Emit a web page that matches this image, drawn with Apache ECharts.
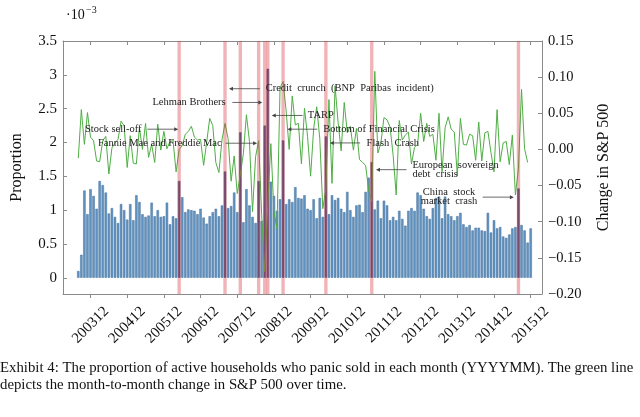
<!DOCTYPE html>
<html><head><meta charset="utf-8">
<script src="https://cdn.jsdelivr.net/npm/echarts@6/dist/echarts.min.js"></script>
<style>html,body{margin:0;padding:0;background:#fff}#c{width:640px;height:417px}</style>
</head><body><div id="c"></div>
<script>
// ---- data ----
const firstMonth = '200308';
const lastMonth = '201512';
// proportion of active households who panic sold (x 10^-3), 200308 .. 201512
const barValues = [
  0.10,0.34,1.29,0.94,1.31,1.21,1.02,1.43,1.37,1.26,0.95,1.03,0.90,0.81,1.09,1.00,0.86,1.09,0.85,1.22,
  1.12,0.94,0.90,0.92,1.11,0.91,1.00,0.90,0.91,1.11,0.79,0.91,0.88,1.43,1.19,0.97,1.01,1.00,0.99,0.94,
  1.02,0.89,0.80,0.91,0.97,1.02,0.91,1.07,1.57,1.03,1.06,1.26,0.97,2.15,0.82,1.31,1.07,0.90,0.81,1.43,
  0.84,2.25,3.09,1.42,1.21,0.99,1.16,2.03,1.09,1.16,1.12,1.34,1.18,1.17,1.22,1.02,1.00,1.16,0.88,1.18,
  0.90,2.09,0.94,1.22,1.15,1.18,1.02,0.97,1.27,1.00,0.90,1.07,1.08,0.97,1.27,1.48,1.71,1.01,1.14,0.88,
  1.14,1.07,0.85,0.90,0.85,0.99,0.87,0.77,0.99,1.03,0.99,1.26,1.22,1.02,0.91,0.87,1.03,1.18,1.20,0.88,
  1.20,0.94,0.91,0.85,0.91,0.96,0.79,0.75,0.78,0.70,0.74,0.74,0.70,0.69,0.96,0.67,0.85,0.73,0.75,0.61,
  0.59,0.64,0.73,0.75,1.32,0.78,0.70,0.52,0.73
];
// month-to-month change in S&P 500, 200308 .. 201511
const spChange = [
  -0.012,0.055,0.007,0.051,
  0.017,0.012,-0.016,-0.017,0.012,0.018,-0.034,0.002,0.009,0.014,0.039,0.033,
  -0.025,0.019,-0.019,-0.020,0.030,0.000,0.036,-0.011,0.007,-0.018,0.035,-0.001,
  0.025,0.001,0.011,0.012,-0.031,0.000,0.005,0.021,0.025,0.032,0.017,0.013,
  0.014,-0.022,0.010,0.043,0.033,-0.018,-0.032,0.013,0.036,0.015,-0.044,-0.009,
  -0.061,-0.035,-0.006,0.048,0.011,-0.086,-0.010,0.012,-0.091,-0.169,-0.075,0.008,
  -0.086,-0.110,0.085,0.094,0.053,0.000,0.074,0.034,0.036,-0.020,0.057,0.018,
  -0.037,0.029,0.059,0.015,-0.082,-0.054,0.069,-0.047,0.088,0.037,-0.002,0.065,
  0.023,0.032,-0.001,0.029,-0.014,-0.018,-0.022,-0.057,-0.072,0.108,-0.005,0.009,
  0.044,0.041,0.031,-0.008,-0.063,0.040,0.013,0.020,0.024,-0.020,0.003,0.007,
  0.050,0.011,0.036,0.018,0.021,-0.015,0.050,-0.031,0.030,0.045,0.028,0.024,
  -0.036,0.043,0.007,0.006,0.021,0.019,-0.015,0.038,-0.016,0.023,0.025,-0.004,
  -0.031,0.055,-0.017,0.009,0.011,-0.021,0.020,-0.063,-0.026,0.083,0.001,-0.018
];
const eventMonths = ['200605','200708','200801','200807','200809','200810','200903','201005','201108','201508'];
const tickLabels = ['200312','200412','200512','200612','200712','200812','200912','201012','201112','201212','201312','201412','201512'];
const leftTicks = [0,0.5,1,1.5,2,2.5,3,3.5];
const annotations = [
  {lines:['Credit  crunch  (BNP  Paribas  incident)'], x:57.3, y:0.084, align:'left', from:55.4, to:45.3},
  {lines:['Lehman Brothers'], x:44.2, y:0.065, align:'right', from:46.4, to:56.2},
  {lines:['TARP'], x:71.1, y:0.047, align:'left', from:69.4, to:59.3},
  {lines:['Bottom of Financial Crisis'], x:76.1, y:0.028, align:'left', from:74.2, to:64.4},
  {lines:['Stock sell-off'], x:16.7, y:0.028, align:'right', from:18.6, to:28.7},
  {lines:['Fannie Mae and Freddie Mac'], x:42.9, y:0.0086, align:'right', from:44.2, to:54.5},
  {lines:['Flash  Crash'], x:90.3, y:0.009, align:'left', from:88.2, to:78.3},
  {lines:['European  sovereign','debt  crisis'], x:105.3, y:-0.028, align:'left', from:103.4, to:93.4},
  {lines:['China  stock','market  crash'], x:117.3, y:-0.066, align:'center', from:128.3, to:138.5}
];
const caption = ['Exhibit 4: The proportion of active households who panic sold in each month (YYYYMM). The green line',
                 'depicts the month-to-month change in S&P 500 over time.'];

// ---- helpers ----
function monthIndex(s){ return (+s.slice(0,4) - 2003) * 12 + (+s.slice(4)) - 12; }
function labelOf(m){ const t = 2003*12 + 11 + Math.round(m); const y = Math.floor(t/12), mo = t%12 + 1; return '' + y + (mo<10?'0':'') + mo; }
const months = [];
for (let t = monthIndex(firstMonth); t <= monthIndex(lastMonth); t++) months.push(labelOf(t));

const FONT = "'Liberation Serif','DejaVu Serif',serif";
const AX = '#8a8a8a';
const tickVals = tickLabels.map(monthIndex);

const chart = echarts.init(document.getElementById('c'), null, {renderer:'canvas'});
const option = {
  animation:false,
  backgroundColor:'#fff',
  grid:{left:63, right:98, top:41, bottom:123, containLabel:false},
  xAxis:[{
    type:'value', min:-9, max:147.7, position:'bottom',
    axisLine:{show:true, onZero:false, lineStyle:{color:AX, width:1}},
    axisTick:{show:true, inside:false, length:4, customValues:tickVals, lineStyle:{color:AX}},
    axisLabel:{customValues:tickVals, rotate:45, align:'center', verticalAlign:'middle',
      formatter:v=>labelOf(v), fontFamily:FONT, fontSize:15, color:'#111', margin:31},
    splitLine:{show:false}
  },{
    type:'value', min:-9, max:147.7, position:'top',
    axisLine:{show:true, onZero:false, lineStyle:{color:AX, width:1}},
    axisTick:{show:true, inside:true, length:4, customValues:tickVals, lineStyle:{color:AX}},
    axisLabel:{show:false}, splitLine:{show:false}
  }],
  yAxis:[{
    type:'value', min:-0.24, max:3.5, position:'left',
    name:'Proportion', nameLocation:'middle', nameGap:38, nameRotate:90,
    nameTextStyle:{fontFamily:FONT, fontSize:16, color:'#111'},
    axisLine:{show:true, onZero:false, lineStyle:{color:AX}},
    axisTick:{show:true, inside:true, length:4, customValues:leftTicks, lineStyle:{color:AX}},
    axisLabel:{customValues:leftTicks, fontFamily:FONT, fontSize:15, color:'#111', margin:6, formatter:v=>String(v)},
    splitLine:{show:false}
  },{
    type:'value', min:-0.2, max:0.15, interval:0.05, position:'right',
    name:'Change in S&P 500', nameLocation:'middle', nameGap:54, nameRotate:90,
    nameTextStyle:{fontFamily:FONT, fontSize:16, color:'#111'},
    axisLine:{show:true, onZero:false, lineStyle:{color:AX}},
    axisTick:{show:true, inside:true, length:4, lineStyle:{color:AX}},
    axisLabel:{fontFamily:FONT, fontSize:14.5, color:'#111', margin:6,
      formatter:v=>{ const s = Math.abs(v).toFixed(2); return (v < -1e-9 ? '\u2212' : '') + s; }},
    splitLine:{show:false}
  }],
  series:[{
    type:'bar', xAxisIndex:0, yAxisIndex:0, barWidth:2.4,
    itemStyle:{color:'#6394c2', borderColor:'#3f6e9c', borderWidth:0.5},
    data: barValues.map((v,i)=>{
      const d = {value:[monthIndex(months[i]), v]};
      if (eventMonths.indexOf(months[i]) >= 0) d.itemStyle = {color:'#3f5a8c', borderColor:'#33487a'};
      return d;
    }), z:2
  },{
    type:'line', xAxisIndex:0, yAxisIndex:1, showSymbol:false, symbol:'none',
    lineStyle:{color:'#4fae45', width:1}, z:3,
    data: spChange.map((v,i)=>[monthIndex(months[i]), v])
  },{
    type:'line', xAxisIndex:0, yAxisIndex:1, data:[], z:6,
    markArea:{silent:true, z:6, itemStyle:{color:'rgba(215,55,65,0.38)'},
      data: eventMonths.map(s=>{ const m = monthIndex(s); return [{xAxis:m-0.55},{xAxis:m+0.55}]; })}
  }]
};
chart.setOption(option);

// ---- annotations and caption ----
const g = [];
const P = (m,v)=>chart.convertToPixel({seriesIndex:1}, [m,v]);
annotations.forEach(a=>{
  const p = P(a.x, a.y), s = P(a.from, a.y), e = P(a.to, a.y);
  const n = a.lines.length, lh = 9;
  a.lines.forEach((t,k)=>{
    g.push({type:'text', x:p[0], y:p[1] + (k - (n-1)/2)*lh, z:20,
      style:{text:t, font:'10.5px '+FONT, fill:'#222', textAlign:a.align, textVerticalAlign:'middle'}});
  });
  const dir = e[0] > s[0] ? 1 : -1;
  g.push({type:'line', z:20, shape:{x1:s[0], y1:s[1], x2:e[0]-dir*3, y2:e[1]}, style:{stroke:'#444', lineWidth:0.8}});
  g.push({type:'polygon', z:20, shape:{points:[[e[0],e[1]],[e[0]-dir*4,e[1]-2],[e[0]-dir*4,e[1]+2]]}, style:{fill:'#444'}});
});
g.push({type:'text', x:66, y:15, style:{text:'\u00b710', font:'14px '+FONT, fill:'#111', textVerticalAlign:'middle'}});
g.push({type:'text', x:86, y:10, style:{text:'\u22123', font:'10px '+FONT, fill:'#111', textVerticalAlign:'middle'}});
caption.forEach((t,k)=>{
  g.push({type:'text', x:0, y:368 + k*17, style:{text:t, font:'14.8px '+FONT, fill:'#111', textVerticalAlign:'middle'}});
});
chart.setOption({graphic:g});
</script>
</body></html>
